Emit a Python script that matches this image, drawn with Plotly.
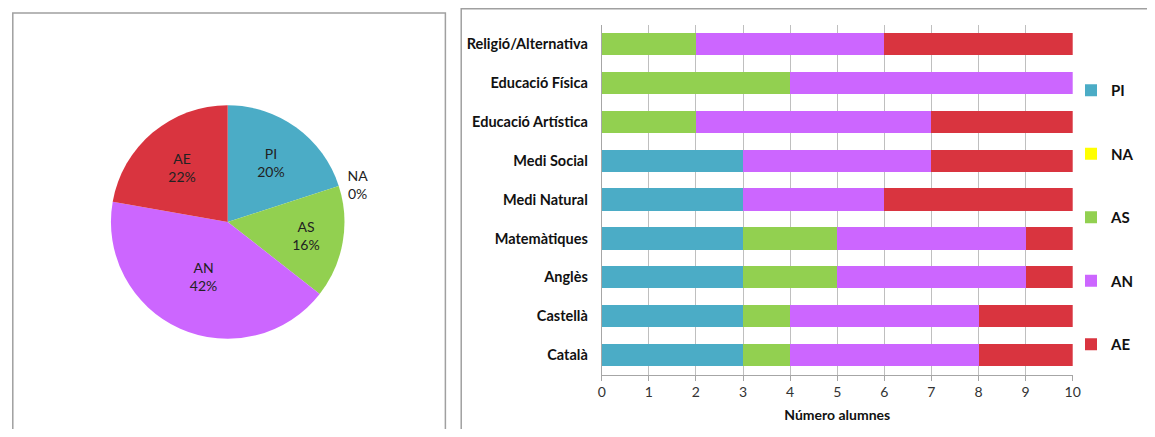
import plotly.graph_objects as go

# Subjects, bottom to top as drawn
subjects = [
    "Català", "Castellà", "Anglès", "Matemàtiques", "Medi Natural",
    "Medi Social", "Educació Artística", "Educació Física", "Religió/Alternativa",
]
series_names = ["PI", "NA", "AS", "AN", "AE"]
pi_vals = [3, 3, 3, 3, 3, 3, 0, 0, 0]
na_vals = [0, 0, 0, 0, 0, 0, 0, 0, 0]
as_vals = [1, 1, 2, 2, 0, 0, 2, 4, 2]
an_vals = [4, 4, 4, 4, 3, 4, 5, 6, 4]
ae_vals = [2, 2, 1, 1, 4, 3, 3, 0, 4]

# Pie totals
pie_labels = ["PI", "NA", "AS", "AN", "AE"]
pie_values = [18, 0, 14, 38, 20]

COLORS = {"PI": "#4BACC6", "NA": "#FFFF00", "AS": "#92D050", "AN": "#CC66FF", "AE": "#D9343F"}

# the page body has an 8px margin on every side, so the figure is shrunk to fit the window
OFF = 8
W, H = 1155 - 2 * OFF, 437 - 2 * OFF


def px_x(x):
    return (x - OFF) / W


def px_y(y):
    return 1 - (y - OFF) / H


fig = go.Figure()

fig.add_trace(go.Pie(
    labels=pie_labels,
    values=pie_values,
    sort=False,
    direction="clockwise",
    rotation=0,
    marker=dict(colors=[COLORS[k] for k in pie_labels], line=dict(width=0)),
    texttemplate="%{label}<br>%{percent:.0%}",
    textposition=["inside", "outside", "inside", "inside", "inside"],
    insidetextorientation="horizontal",
    textfont=dict(family="Lato", size=14, color="#222222"),
    domain=dict(x=[px_x(108), px_x(344)], y=[px_y(340), px_y(104)]),
    showlegend=False,
    hoverinfo="label+percent",
))

bar_data = [pi_vals, na_vals, as_vals, an_vals, ae_vals]
for name, vals in zip(series_names, bar_data):
    fig.add_trace(go.Bar(
        y=subjects,
        x=vals,
        name=name,
        orientation="h",
        marker=dict(color=COLORS[name], line=dict(width=0)),
        legendgroup=name,
    ))

fig.update_layout(
    width=W,
    height=H,
    margin=dict(l=0, r=0, t=0, b=0),
    paper_bgcolor="white",
    plot_bgcolor="white",
    barmode="stack",
    bargap=0.43,
    font=dict(family="Lato", color="#111111"),
    xaxis=dict(
        domain=[px_x(604), px_x(1080)],
        range=[0, 10],
        dtick=1,
        showgrid=True,
        gridcolor="#BFBFBF",
        showline=True,
        linecolor="#A6A6A6",
        ticks="outside",
        ticklen=5,
        tickcolor="#A6A6A6",
        zeroline=False,
        tickfont=dict(size=14, color="#333333"),
        title=dict(text="Número alumnes", font=dict(size=14, weight="bold"), standoff=10),
    ),
    yaxis=dict(
        domain=[px_y(374.5), px_y(24.6)],
        showline=True,
        linecolor="#A6A6A6",
        ticks="",
        ticklabelstandoff=10,
        tickfont=dict(size=14.5, weight="bold", color="#111111"),
    ),
    # anchored to the right edge so the legend never pushes the plot margin;
    # transparent so its box does not hide the bar ends
    legend=dict(
        x=1,
        y=px_y(74),
        xanchor="right",
        yanchor="top",
        bgcolor="rgba(0,0,0,0)",
        traceorder="grouped",
        tracegroupgap=41,
        font=dict(size=15, weight="bold"),
        itemwidth=30,
    ),
    shapes=[
        dict(type="rect", xref="paper", yref="paper",
             x0=px_x(8.8), x1=px_x(446), y0=-0.1, y1=px_y(13),
             line=dict(color="#A0A0A0", width=1.5)),
        dict(type="rect", xref="paper", yref="paper",
             x0=px_x(462), x1=1.05, y0=-0.1, y1=px_y(8.8),
             line=dict(color="#A0A0A0", width=1.5)),
    ],
)

fig.write_html("out.html")
